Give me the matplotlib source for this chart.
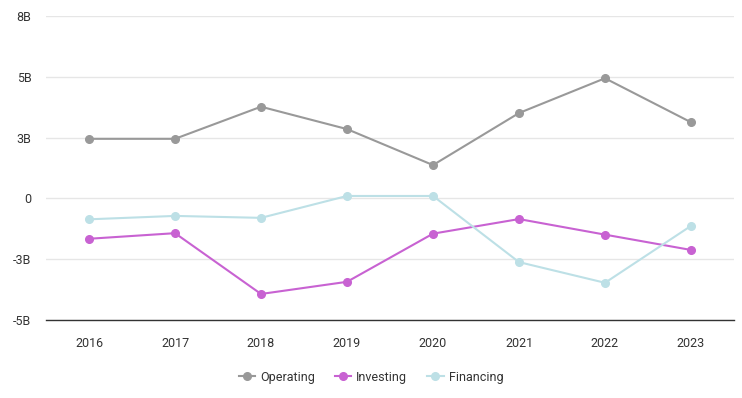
import matplotlib.pyplot as plt

# Datos de flujo de caja (miles de millones)
years = ["2016", "2017", "2018", "2019", "2020", "2021", "2022", "2023"]
operating = [2.45, 2.45, 3.77, 2.85, 1.37, 3.51, 4.94, 3.13]
investing = [-1.66, -1.43, -3.93, -3.43, -1.45, -0.85, -1.49, -2.12]
financing = [-0.86, -0.72, -0.80, 0.10, 0.10, -2.62, -3.47, -1.13]

y_ticks = [-5, -2.5, 0, 2.5, 5, 7.5]
y_labels = ["-5B", "-3B", "0", "3B", "5B", "8B"]

plt.rcParams['font.family'] = ['Roboto', 'DejaVu Sans']

fig = plt.figure(figsize=(7.42, 3.98), dpi=100)
ax = fig.add_axes([46 / 742, 78 / 398, 688 / 742, 304 / 398])

x = range(len(years))
ax.plot(x, operating, color="#999999", lw=1.5, marker="o", ms=5.5, label="Operating", zorder=3)
ax.plot(x, investing, color="#c862d2", lw=1.5, marker="o", ms=5.5, label="Investing", zorder=3)
ax.plot(x, financing, color="#bde0e6", lw=1.5, marker="o", ms=5.5, label="Financing", zorder=3)

ax.set_xlim(-0.5, len(years) - 0.5)
ax.set_ylim(-5, 7.5)
ax.set_xticks(list(x))
ax.set_xticklabels(years)
ax.set_yticks(y_ticks)
ax.set_yticklabels(y_labels)
ax.tick_params(length=0, labelsize=9, colors="#333333")
ax.tick_params(axis="x", pad=12)
ax.tick_params(axis="y", pad=10.5)

ax.grid(axis="y", color="#e6e6e6", lw=1)
ax.set_axisbelow(True)
for s in ["left", "right", "top"]:
    ax.spines[s].set_visible(False)
ax.spines["bottom"].set_color("#333333")
ax.spines["bottom"].set_linewidth(1)
ax.spines["bottom"].set_zorder(1)

leg = fig.legend(loc="center", bbox_to_anchor=(0.5, 1 - 377 / 398), ncol=3, frameon=False,
                 fontsize=9, handlelength=1.3, columnspacing=1.6, handletextpad=0.4)
for t in leg.get_texts():
    t.set_color("#333333")

fig.savefig("out.png", dpi=100)
